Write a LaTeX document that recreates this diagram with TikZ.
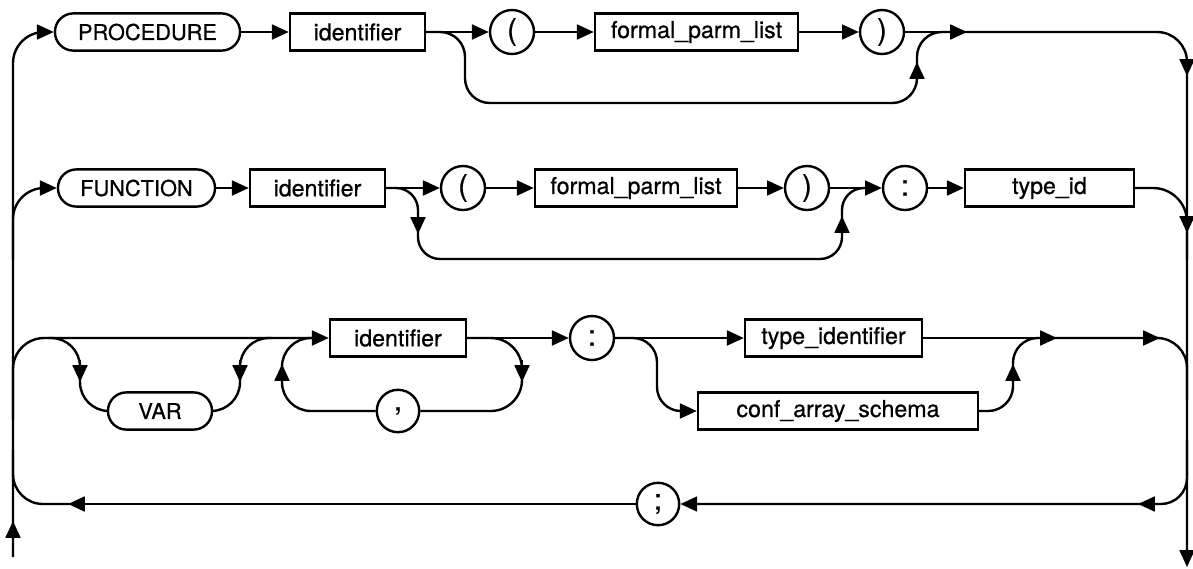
\documentclass[tikz,border=0pt]{standalone}
\usepackage{fontspec}
\setmainfont[FakeBold=0.6]{TeX Gyre Heros}
\usetikzlibrary{arrows.meta}
\begin{document}
\begin{tikzpicture}[x=0.025cm,y=-0.025cm,
  rail/.style={line width=1.7pt},
  arr/.style={line width=1.7pt,-{Triangle[length=0.42cm,width=0.37cm]}},
  ntbox/.style={draw,line width=1.7pt,minimum height=0.93cm,inner sep=0pt,font=\fontsize{16.5}{19}\selectfont},
  kwbox/.style={draw,line width=1.7pt,rounded corners=0.46cm,minimum height=0.93cm,inner sep=0pt,font=\fontsize{15.5}{18}\selectfont},
  tbox/.style={draw,circle,line width=1.7pt,minimum size=1.1cm,inner sep=0pt,font=\fontsize{21}{23}\selectfont},
]
\useasboundingbox (0,0) rectangle (1193,568);
% row 1
\node[kwbox,minimum width=4.625cm] (proc) at (147.5,32) {PROCEDURE};
\node[ntbox,minimum width=3.375cm] (id1) at (357.5,32) {identifier};
\node[tbox] (lp1) at (512,32) {(};
\node[ntbox,minimum width=5.075cm] (fpl1) at (696.5,32) {formal\_parm\_list};
\node[tbox] (rp1) at (882,32) {)};
% row 2
\node[kwbox,minimum width=3.925cm] (func) at (136.5,188) {FUNCTION};
\node[ntbox,minimum width=3.375cm] (id2) at (317.5,188) {identifier};
\node[tbox] (lp2) at (463,188) {(};
\node[ntbox,minimum width=5.05cm] (fpl2) at (636,188) {formal\_parm\_list};
\node[tbox] (rp2) at (807,188) {)};
\node[tbox] (col2) at (905,188) {:};
\node[ntbox,minimum width=4.225cm] (tid) at (1049.5,188) {type\_id};
% row 3
\node[ntbox,minimum width=3.4cm] (id3) at (398,338) {identifier};
\node[tbox] (col3) at (592,338) {:};
\node[ntbox,minimum width=4.425cm] (tident) at (833.5,338) {type\_identifier};
\node[ntbox,minimum width=7.0cm] (conf) at (838,411) {conf\_array\_schema};
\node[kwbox,minimum width=2.6cm] (var) at (160,411) {VAR};
\node[tbox,minimum size=1.06cm] (comma) at (398,411) {,};
\node[tbox,minimum size=1.06cm] (semi) at (658,504) {;};

% left rail
\draw[arr,rounded corners=0.78cm] (13,557) |- (proc.west);
\draw[arr] (13,545) -- (13,521);
\draw[arr,rounded corners=0.78cm] (13,260) |- (func.west);
\draw[arr,rounded corners=0.78cm] (13,420) |- (id3.west);
\draw[arr] (semi.west) -- (68,504);
\draw[rail,rounded corners=0.75cm] (70,504) -| (13,450);

% row 1
\draw[arr] (proc) -- (id1);
\draw[arr] (id1) -- (lp1);
\draw[arr] (lp1) -- (fpl1);
\draw[arr] (fpl1) -- (rp1);
\draw[arr] (rp1) -- (967,32);
\draw[arr,rounded corners=0.75cm] (960,32) -| (1187,567);
\draw[arr] (1187,58) -- (1187,76);
\draw[rail,rounded corners=0.62cm] (id1.east) -| (465,103) -| (917,32) -- (950,32);
\draw[arr] (917,80) -- (917,62);

% row 2
\draw[arr] (func) -- (id2);
\draw[arr] (id2) -- (lp2);
\draw[arr] (lp2) -- (fpl2);
\draw[arr] (fpl2) -- (rp2);
\draw[arr] (rp2) -- (col2);
\draw[arr] (col2) -- (tid);
\draw[rail,rounded corners=0.85cm] (tid.east) -| (1187,260);
\draw[arr] (1187,214) -- (1187,233);
\draw[rail,rounded corners=0.55cm] (id2.east) -| (418,259) -| (842,188) -- (870,188);
\draw[arr] (418,214) -- (418,234);
\draw[arr] (842,234) -- (842,216);

% row 3
\draw[rail,rounded corners=0.72cm] (48,338) -| (80,411) -- (var.west);
\draw[arr] (80,360) -- (80,382);
\draw[rail,rounded corners=0.72cm] (var.east) -| (240,338) -- (272,338);
\draw[arr] (240,360) -- (240,382);
\draw[arr] (id3) -- (col3);
\draw[rail,rounded corners=0.78cm] (id3.east) -| (522,411) -- (comma.east);
\draw[arr] (522,360) -- (522,382);
\draw[rail,rounded corners=0.72cm] (comma.west) -| (282,338) -- (315,338);
\draw[arr] (282,384) -- (282,364);
\draw[arr] (col3) -- (tident);
\draw[arr,rounded corners=0.6cm] (col3.east) -| (657,411) -- (conf.west);
\draw[arr] (tident) -- (1057,338);
\draw[rail,rounded corners=0.75cm] (1050,338) -| (1187,400);
\draw[arr] (1140,338) -- (1160,338);
\draw[rail,rounded corners=0.62cm] (conf.east) -| (1013,338) -- (1045,338);
\draw[arr] (1013,385) -- (1013,364);
\draw[arr,rounded corners=0.65cm] (1187,440) |- (semi.east);
\draw[arr] (1160,504) -- (1138,504);
\end{tikzpicture}
\end{document}
